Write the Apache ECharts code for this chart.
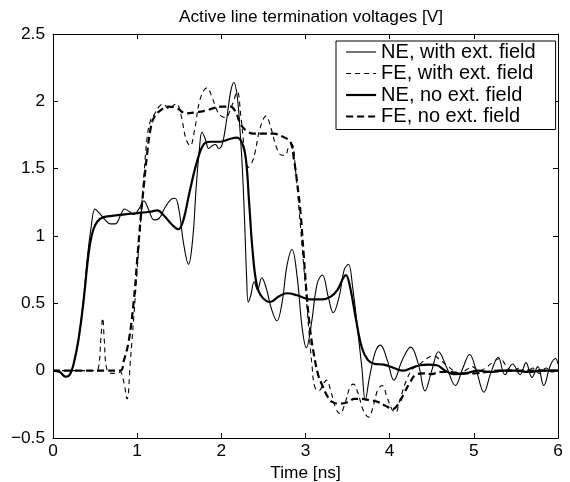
<!DOCTYPE html>
<html>
<head>
<meta charset="utf-8">
<script src="https://cdn.jsdelivr.net/npm/echarts@6/dist/echarts.min.js"></script>
<style>
html,body{margin:0;padding:0;background:#fff;}
#chart{width:570px;height:482px;}
</style>
</head>
<body>
<div id="chart"></div>
<script>
// ---- data (time in ns, voltage in V) ----
var xTicks = [0, 1, 2, 3, 4, 5, 6];
var yTicks = [-0.5, 0, 0.5, 1, 1.5, 2, 2.5];
var seriesNames = ['NE, with ext. field', 'FE, with ext. field', 'NE, no ext. field', 'FE, no ext. field'];

var neWith = [[0,0],[0.08,-0.01],[0.15,-0.045],[0.2,-0.03],[0.245,0.05],[0.30,0.22],[0.36,0.52],[0.41,0.85],[0.45,1.05],[0.50,1.20],[0.55,1.17],[0.62,1.12],[0.68,1.09],[0.74,1.09],[0.80,1.15],[0.85,1.20],[0.91,1.18],[0.96,1.16],[1.02,1.20],[1.08,1.26],[1.14,1.19],[1.20,1.12],[1.26,1.13],[1.33,1.21],[1.40,1.27],[1.45,1.28],[1.50,1.18],[1.55,0.95],[1.61,0.79],[1.66,0.98],[1.70,1.35],[1.74,1.65],[1.77,1.77],[1.81,1.72],[1.85,1.65],[1.89,1.67],[1.93,1.68],[1.97,1.65],[2.01,1.68],[2.06,1.85],[2.11,2.07],[2.15,2.14],[2.19,2.03],[2.22,1.80],[2.25,1.50],[2.28,1.05],[2.30,0.70],[2.32,0.51],[2.35,0.56],[2.39,0.66],[2.43,0.60],[2.48,0.69],[2.53,0.62],[2.60,0.45],[2.66,0.37],[2.72,0.50],[2.78,0.78],[2.84,0.90],[2.90,0.70],[2.96,0.32],[3.01,0.17],[3.07,0.35],[3.14,0.65],[3.20,0.71],[3.27,0.55],[3.33,0.43],[3.40,0.55],[3.46,0.75],[3.51,0.79],[3.56,0.62],[3.62,0.30],[3.67,0.02],[3.71,-0.22],[3.76,-0.05],[3.83,0.14],[3.89,0.19],[3.97,0.08],[4.05,-0.07],[4.15,0.08],[4.25,0.175],[4.34,0.05],[4.42,-0.15],[4.50,0.0],[4.58,0.14],[4.68,0.02],[4.78,-0.11],[4.87,0.02],[4.95,0.12],[5.03,0.0],[5.12,-0.16],[5.20,-0.02],[5.29,0.10],[5.37,-0.03],[5.46,0.05],[5.55,-0.03],[5.62,0.06],[5.69,-0.05],[5.76,0.03],[5.83,-0.11],[5.91,0.04],[5.97,0.09],[6.0,0.05]];

var feWith = [[0,0],[0.3,0],[0.5,0],[0.54,0.02],[0.57,0.25],[0.59,0.39],[0.61,0.22],[0.64,0.01],[0.70,-0.02],[0.76,-0.02],[0.80,-0.01],[0.84,-0.08],[0.88,-0.21],[0.92,0.08],[0.96,0.40],[1.00,0.75],[1.04,1.10],[1.08,1.45],[1.12,1.74],[1.16,1.86],[1.20,1.90],[1.26,1.96],[1.31,1.98],[1.36,1.95],[1.39,1.94],[1.43,1.97],[1.47,1.98],[1.52,1.90],[1.58,1.72],[1.63,1.67],[1.68,1.78],[1.75,2.02],[1.83,2.10],[1.89,2.03],[1.95,1.93],[2.00,1.89],[2.05,1.88],[2.12,1.96],[2.19,2.07],[2.23,1.90],[2.28,1.62],[2.32,1.51],[2.36,1.54],[2.40,1.62],[2.46,1.80],[2.53,1.89],[2.59,1.80],[2.66,1.65],[2.72,1.60],[2.76,1.60],[2.80,1.66],[2.84,1.68],[2.88,1.50],[2.92,1.22],[2.96,0.92],[3.00,0.62],[3.04,0.30],[3.08,0.02],[3.11,-0.12],[3.16,-0.15],[3.21,-0.10],[3.25,-0.07],[3.30,-0.15],[3.36,-0.28],[3.41,-0.32],[3.47,-0.24],[3.53,-0.12],[3.57,-0.10],[3.62,-0.16],[3.69,-0.30],[3.75,-0.345],[3.81,-0.25],[3.86,-0.14],[3.91,-0.11],[3.97,-0.20],[4.03,-0.29],[4.07,-0.31],[4.12,-0.22],[4.20,-0.07],[4.28,0.02],[4.36,0.05],[4.44,0.09],[4.52,0.11],[4.60,0.08],[4.68,0.04],[4.76,0.0],[4.84,-0.02],[4.92,0.01],[4.98,0.03],[5.06,0.0],[5.14,0.02],[5.22,0.06],[5.31,0.09],[5.38,0.04],[5.46,-0.01],[5.54,0.02],[5.62,-0.01],[5.70,0.02],[5.78,-0.02],[5.86,0.02],[5.93,-0.01],[6.0,0.02]];

var neNo = [[0,0],[0.08,-0.01],[0.15,-0.045],[0.2,-0.03],[0.245,0.05],[0.30,0.22],[0.36,0.50],[0.41,0.80],[0.44,0.94],[0.48,1.05],[0.53,1.11],[0.60,1.14],[0.70,1.15],[0.85,1.16],[1.00,1.17],[1.15,1.18],[1.24,1.19],[1.32,1.15],[1.42,1.08],[1.49,1.05],[1.55,1.12],[1.62,1.32],[1.71,1.55],[1.79,1.68],[1.87,1.70],[1.99,1.70],[2.10,1.72],[2.18,1.73],[2.24,1.70],[2.29,1.58],[2.33,1.25],[2.37,0.90],[2.42,0.64],[2.48,0.55],[2.58,0.51],[2.68,0.55],[2.78,0.575],[2.90,0.56],[3.05,0.53],[3.20,0.53],[3.30,0.55],[3.38,0.60],[3.45,0.69],[3.48,0.71],[3.53,0.62],[3.60,0.38],[3.67,0.17],[3.74,0.08],[3.82,0.05],[3.93,0.045],[4.05,0.02],[4.16,0.0],[4.26,0.02],[4.36,0.04],[4.46,0.045],[4.56,0.04],[4.66,0.0],[4.76,-0.025],[4.90,-0.02],[5.05,0.0],[5.20,-0.01],[5.35,0.0],[5.50,0.0],[5.65,-0.01],[5.80,0.0],[6.0,0.0]];

var feNo = [[0,0],[0.3,0],[0.6,0],[0.80,0.0],[0.84,0.07],[0.90,0.22],[0.96,0.52],[1.00,0.82],[1.04,1.12],[1.08,1.38],[1.12,1.62],[1.16,1.80],[1.20,1.88],[1.27,1.93],[1.37,1.96],[1.47,1.95],[1.58,1.91],[1.71,1.92],[1.81,1.93],[1.91,1.95],[2.01,1.96],[2.11,1.96],[2.17,1.92],[2.23,1.83],[2.30,1.78],[2.38,1.76],[2.50,1.76],[2.62,1.76],[2.72,1.74],[2.82,1.70],[2.86,1.58],[2.90,1.40],[2.94,1.18],[2.98,0.85],[3.02,0.52],[3.06,0.28],[3.10,0.12],[3.15,-0.03],[3.20,-0.11],[3.26,-0.19],[3.31,-0.23],[3.41,-0.245],[3.50,-0.235],[3.58,-0.21],[3.67,-0.21],[3.76,-0.22],[3.85,-0.23],[3.95,-0.26],[4.04,-0.285],[4.10,-0.25],[4.17,-0.17],[4.24,-0.09],[4.31,-0.03],[4.40,-0.02],[4.50,-0.025],[4.60,-0.01],[4.72,-0.01],[4.85,-0.02],[5.00,-0.02],[5.15,-0.01],[5.30,0.0],[5.50,0.0],[5.70,0.0],[6.0,0.0]];

var FONT = 'Liberation Sans, Arial, Helvetica, sans-serif';
var chart = echarts.init(document.getElementById('chart'), null, {renderer: 'canvas'});

function fmt(v) { return String(v).replace('-', '\u2212'); }

var axisCommon = {
  min: 0, max: 6, interval: 1, type: 'value',
  axisLine: {show: true, onZero: false, lineStyle: {color: '#000', width: 1}},
  axisTick: {show: true, inside: true, length: 5, lineStyle: {color: '#000'}},
  splitLine: {show: false}
};

var option = {
  animation: false,
  backgroundColor: '#fff',
  title: {
    text: 'Active line termination voltages [V]',
    left: 306, top: 4, textAlign: 'center',
    textStyle: {fontFamily: FONT, fontSize: 17.3, fontWeight: 'normal', color: '#000'}
  },
  grid: {left: 53, right: 12, top: 34, bottom: 44, show: false,
         containLabel: false, outerBoundsMode: 'none'},
  legend: {
    orient: 'vertical', left: 336, top: 41,
    data: seriesNames,
    itemWidth: 30, itemHeight: 14, itemGap: 1.5,
    padding: [1, 20, 3, 9],
    borderColor: '#000', borderWidth: 1, backgroundColor: '#fff',
    itemStyle: {opacity: 0},
    lineStyle: {width: 'inherit', type: 'inherit'},
    textStyle: {fontFamily: FONT, fontSize: 20, color: '#000', lineHeight: 20},
    selectedMode: false
  },
  xAxis: [
    Object.assign({}, axisCommon, {
      position: 'bottom',
      name: 'Time [ns]', nameLocation: 'middle', nameGap: 22,
      nameTextStyle: {fontFamily: FONT, fontSize: 17.3, color: '#000'},
      axisLabel: {show: true, margin: 5, color: '#000', fontFamily: FONT, fontSize: 17.3,
                  customValues: xTicks, formatter: fmt}
    }),
    Object.assign({}, axisCommon, {
      position: 'top', axisLabel: {show: false}
    })
  ],
  yAxis: [
    Object.assign({}, axisCommon, {
      min: -0.5, max: 2.5, interval: 0.5, position: 'left',
      axisLabel: {show: true, margin: 8, color: '#000', fontFamily: FONT, fontSize: 17.3, formatter: fmt}
    }),
    Object.assign({}, axisCommon, {
      min: -0.5, max: 2.5, interval: 0.5, position: 'right', axisLabel: {show: false}
    })
  ],
  series: [
    {name: seriesNames[0], type: 'line', data: neWith, xAxisIndex: 0, yAxisIndex: 0,
     showSymbol: false, symbol: 'none', smooth: 0.4, color: '#000',
     lineStyle: {color: '#000', width: 1.1}},
    {name: seriesNames[1], type: 'line', data: feWith, xAxisIndex: 0, yAxisIndex: 0,
     showSymbol: false, symbol: 'none', smooth: 0.4, color: '#000',
     lineStyle: {color: '#000', width: 1.1, type: [5, 4]}},
    {name: seriesNames[2], type: 'line', data: neNo, xAxisIndex: 0, yAxisIndex: 0,
     showSymbol: false, symbol: 'none', smooth: 0.4, color: '#000',
     lineStyle: {color: '#000', width: 2.2}},
    {name: seriesNames[3], type: 'line', data: feNo, xAxisIndex: 0, yAxisIndex: 0,
     showSymbol: false, symbol: 'none', smooth: 0.4, color: '#000',
     lineStyle: {color: '#000', width: 2.2, type: [7, 4]}}
  ]
};
chart.setOption(option);
</script>
</body>
</html>
